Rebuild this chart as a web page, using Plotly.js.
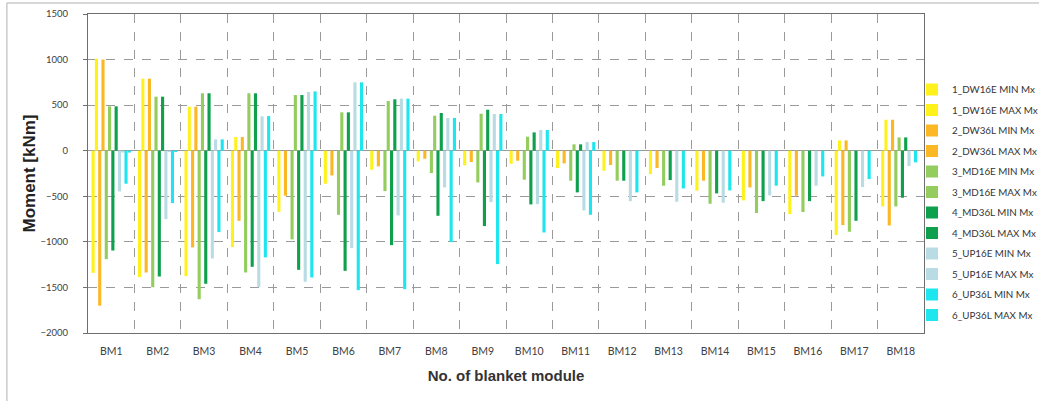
<!DOCTYPE html>
<html>
<head>
<meta charset="utf-8">
<script src="https://cdn.plot.ly/plotly-3.0.1.min.js"></script>
<style>html,body{margin:0;padding:0;background:#fff;}#chart{width:1039px;height:401px;}</style>
</head>
<body>
<div id="chart"></div>
<script>
var categories = ["BM1","BM2","BM3","BM4","BM5","BM6","BM7","BM8","BM9","BM10","BM11","BM12","BM13","BM14","BM15","BM16","BM17","BM18"];

var dw16eMin = [-1340,-1387,-1376,-1058,-670,-362,-209,-117,-161,-143,-190,-220,-256,-439,-545,-695,-926,-611];
var dw16eMax = [1010,790,483,150,0,0,0,0,0,0,0,0,0,0,0,0,113,340];
var dw36lMin = [-1700,-1336,-1061,-769,-494,-271,-172,-88,-124,-110,-139,-157,-190,-329,-403,-494,-816,-820];
var dw36lMax = [1000,790,483,150,0,0,0,0,0,0,0,0,0,0,0,0,113,340];
var md16eMin = [-1190,-1497,-1629,-1336,-973,-703,-443,-245,-348,-318,-329,-329,-384,-582,-684,-673,-889,-611];
var md16eMax = [487,593,630,630,611,421,545,384,406,154,70,0,0,0,0,0,0,146];
var md36lMin = [-1095,-1380,-1460,-1274,-1307,-1318,-1036,-714,-827,-589,-457,-329,-322,-468,-553,-553,-769,-516];
var md36lMax = [487,593,630,630,611,421,564,414,450,201,70,0,0,0,0,0,0,146];
var up16eMin = [-447,-750,-1182,-1497,-1438,-1069,-710,-403,-564,-586,-655,-553,-560,-571,-490,-384,-399,-168];
var up16eMax = [-20,-15,124,377,644,750,571,359,403,227,95,0,0,0,0,0,0,0];
var up36lMin = [-362,-575,-893,-1171,-1391,-1530,-1519,-1003,-1244,-897,-703,-457,-414,-436,-384,-282,-311,-128];
var up36lMax = [-20,-15,124,380,651,750,571,359,403,227,95,5,0,0,0,0,0,0];

var seriesNames = ["1_DW16E MIN Mx","1_DW16E MAX Mx","2_DW36L MIN Mx","2_DW36L MAX Mx","3_MD16E MIN Mx","3_MD16E MAX Mx","4_MD36L MIN Mx","4_MD36L MAX Mx","5_UP16E MIN Mx","5_UP16E MAX Mx","6_UP36L MIN Mx","6_UP36L MAX Mx"];
var seriesValues = [dw16eMin,dw16eMax,dw36lMin,dw36lMax,md16eMin,md16eMax,md36lMin,md36lMax,up16eMin,up16eMax,up36lMin,up36lMax];
var seriesColors = ["#FFF21C","#FFF21C","#FBB824","#FBB824","#93CD5E","#93CD5E","#0FA04E","#0FA04E","#B9DCE4","#B9DCE4","#1DE6EE","#1DE6EE"];

var traces = seriesNames.map(function(n,i){
  return {type:"bar", name:n, x:categories, y:seriesValues[i], legendgroup:"g"+i,
          marker:{color:seriesColors[i], line:{width:0}}};
});

var layout = {
  width:1039, height:401,
  margin:{l:88, r:115, t:14, b:68, autoexpand:false},
  paper_bgcolor:"#fff", plot_bgcolor:"#fff",
  font:{family:"Lato, sans-serif", color:"#404040"},
  barmode:"group", bargap:0.15, bargroupgap:0.05,
  showlegend:true,
  legend:{xref:"container", yref:"container", x:912/1039, xanchor:"left", y:1-75/401, yanchor:"top",
          font:{size:9.8, color:"#333"}, maxheight:380,
          bgcolor:"rgba(0,0,0,0)", borderwidth:0, tracegroupgap:1.5, itemwidth:30, traceorder:"grouped"},
  xaxis:{type:"category", tickson:"boundaries", showgrid:true, gridcolor:"#9a9a9a", griddash:"dash", gridwidth:1,
         showline:true, linecolor:"#6e6e6e", linewidth:1, mirror:true, ticks:"", ticklabelstandoff:8,
         tickfont:{size:10.5, color:"#404040"},
         title:{text:"No. of blanket module", font:{size:15, family:"Liberation Sans, Arial, sans-serif", color:"#333", weight:"bold"}, standoff:14}},
  yaxis:{range:[-2000,1500], dtick:500, tick0:0, showgrid:true, gridcolor:"#9a9a9a", griddash:"dash", gridwidth:1,
         zeroline:true, zerolinecolor:"#9a9a9a", zerolinewidth:1,
         showline:true, linecolor:"#6e6e6e", linewidth:1, mirror:true, ticks:"outside", ticklen:4, tickcolor:"#6e6e6e",
         ticklabelstandoff:13, tickfont:{size:9.5, color:"#404040"},
         title:{text:"Moment [kNm]", font:{size:17, family:"Liberation Sans, Arial, sans-serif", color:"#222", weight:"bold"}, standoff:0}},
  shapes:[
    {type:"line", xref:"paper", yref:"paper", x0:-0.097, x1:1.2, y0:1.0345, y1:1.0345, line:{color:"#b0b0b0", width:1}},
    {type:"line", xref:"paper", yref:"paper", x0:-0.097, x1:-0.097, y0:1.0345, y1:-0.3, line:{color:"#b0b0b0", width:1}}
  ]
};

Plotly.newPlot("chart", traces, layout, {displayModeBar:false, staticPlot:true});
</script>
</body>
</html>
